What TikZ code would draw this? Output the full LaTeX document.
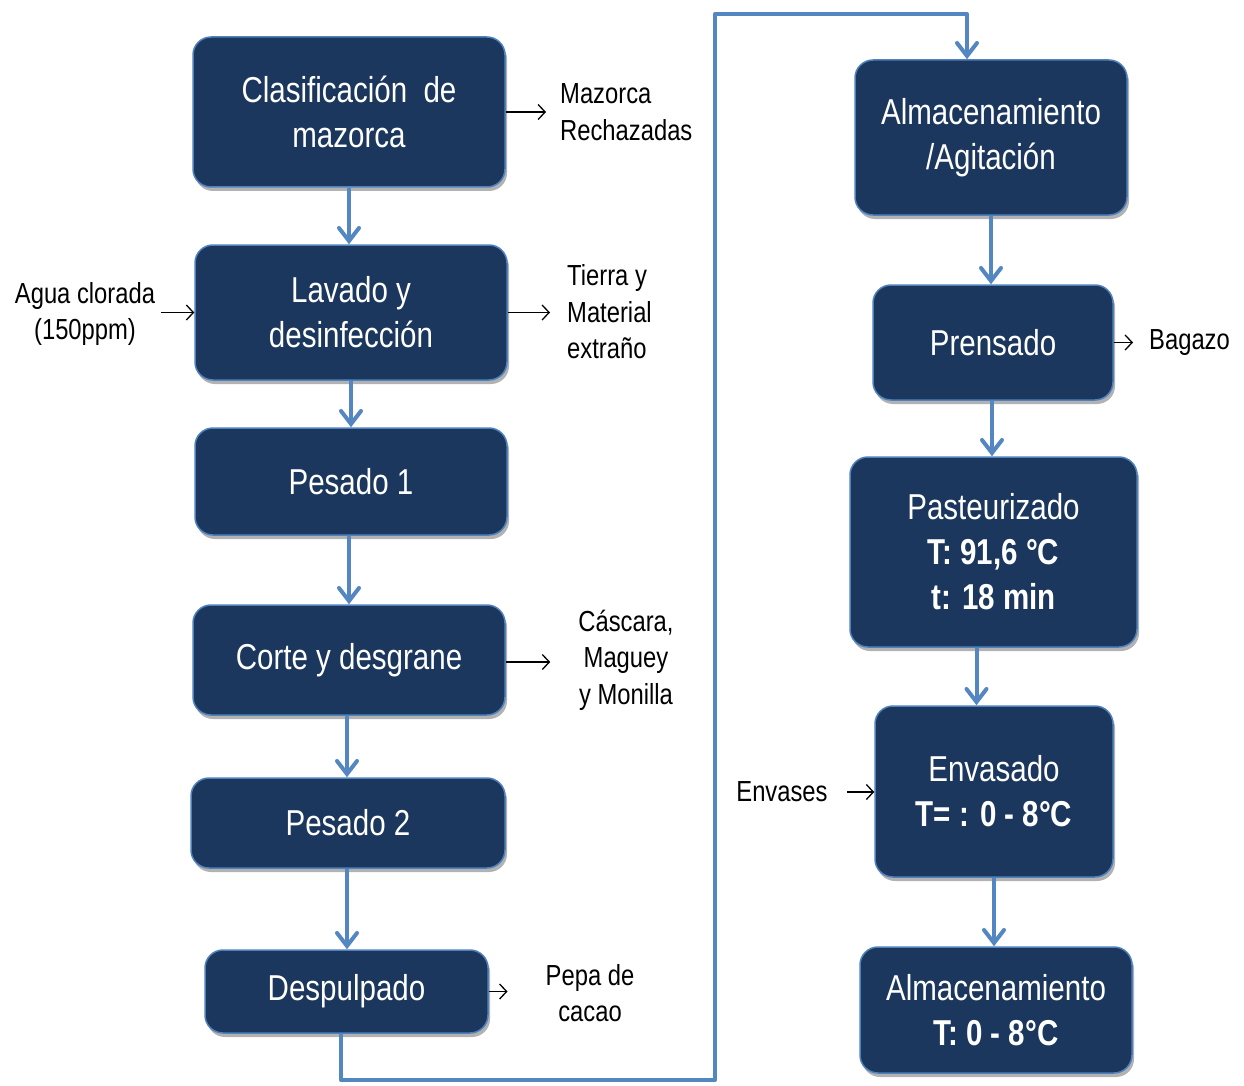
\documentclass[tikz,border=0pt]{standalone}
\usepackage{fontspec}
\setmainfont[FakeStretch=0.82]{Liberation Sans}
\usetikzlibrary{arrows.meta,shadows}
\definecolor{navy}{RGB}{27,55,94}
\definecolor{edgeblue}{RGB}{79,129,189}
\definecolor{flowblue}{RGB}{84,134,194}
\tikzset{
 box/.style={draw=edgeblue, line width=1.5pt, fill=navy, rounded corners=18pt, text=white, align=center, inner sep=0pt,
   font=\fontsize{36}{45}\selectfont,
   drop shadow={shadow xshift=2pt, shadow yshift=-4pt, opacity=0.3, fill=black}},
 flow/.style={draw=flowblue, line width=4pt, line join=round, -{Straight Barb[length=13pt,width=20pt,line cap=round]}},
 side/.style={draw=black, line width=1.3pt, -{Straight Barb[length=7pt,width=15pt]}},
 lab/.style={inner sep=0pt, font=\fontsize{29}{36.5}\selectfont, text=black},
}
\begin{document}
\begin{tikzpicture}[x=1pt,y=-1pt]
\fill[white] (0,0) rectangle (1244,1086);
\useasboundingbox (0,0) rectangle (1244,1086);
% left column
\node[box, minimum width=312pt, minimum height=150pt] (n1) at (349,112) {Clasificación\ \ de\\mazorca};
\node[box, minimum width=312pt, minimum height=135pt] (n2) at (351,312.5) {Lavado y\\desinfección};
\node[box, minimum width=312pt, minimum height=107pt] (n3) at (351,481.5) {Pesado 1};
\node[box, minimum width=312pt, minimum height=110pt] (n4) at (349,660) {Corte y desgrane};
\node[box, minimum width=314pt, minimum height=90pt] (n5) at (348,823) {Pesado 2};
\node[box, minimum width=283pt, minimum height=83pt] (n6) at (346.5,991.5) {Despulpado};
% right column
\node[box, minimum width=272pt, minimum height=155pt] (n7) at (991,137.5) {Almacenamiento\\/Agitación};
\node[box, minimum width=240pt, minimum height=115pt] (n8) at (993,342.5) {Prensado};
\node[box, minimum width=287pt, minimum height=190pt] (n9) at (993.5,552) {Pasteurizado\\\textbf{T: 91,6 °C}\\\textbf{t: 18 min}};
\node[box, minimum width=238pt, minimum height=171pt] (n10) at (994,791.5) {Envasado\\\textbf{T= : 0 - 8°C}};
\node[box, minimum width=272pt, minimum height=126pt] (n11) at (996,1010) {Almacenamiento\\\textbf{T: 0 - 8°C}};
% side labels
\node[lab, anchor=west, align=left] (l1) at (560,112) {Mazorca\\Rechazadas};
\node[lab, align=center] (l2) at (85,314) {Agua clorada\\(150ppm)};
\node[lab, anchor=west, align=left] (l3) at (567,312) {Tierra y\\Material\\extraño};
\node[lab, align=center] (l4) at (626,660) {Cáscara,\\Maguey\\y Monilla};
\node[lab, anchor=west] (l5) at (1149,343) {Bagazo};
\node[lab, align=center] (l6) at (590,993) {Pepa de\\cacao};
\node[lab] (l7) at (782,792) {Envases};
% flow arrows
\draw[flow] (n1.south) -- (n1.south |- n2.north);
\draw[flow] (n2.south) -- (n2.south |- n3.north);
\draw[flow] ([xshift=-2pt]n3.south) -- ([xshift=-2pt]n3.south |- n4.north);
\draw[flow] ([xshift=-2pt]n4.south) -- ([xshift=-2pt]n4.south |- n5.north);
\draw[flow] ([xshift=-1pt]n5.south) -- ([xshift=-1pt]n5.south |- n6.north);
\coordinate (c1) at (715,1080);
\coordinate (c2) at (967,14);
\draw[flow] ([xshift=-5.5pt]n6.south) |- (c1) -- (c1 |- c2) -- (c2) -- (c2 |- n7.north);
\draw[flow] (n7.south) -- (n7.south |- n8.north);
\draw[flow] ([xshift=-1pt]n8.south) -- ([xshift=-1pt]n8.south |- n9.north);
\draw[flow] ([xshift=-17pt]n9.south) -- ([xshift=-17pt]n9.south |- n10.north);
\draw[flow] (n10.south) -- (n10.south |- n11.north);
% side arrows
\draw[side, shorten >=14pt] (n1.east) -- (n1.east -| l1.west);
\draw[side, shorten <=6pt] (l2.east |- n2.west) -- (n2.west);
\draw[side, shorten >=17pt] (n2.east) -- (n2.east -| l3.west);
\draw[side, shorten >=28pt] ([yshift=-2pt]n4.east) -- ([yshift=-2pt]n4.east -| l4.west);
\draw[side, shorten >=16pt] (n8.east) -- (n8.east -| l5.west);
\draw[side, shorten >=38pt] (n6.east) -- (n6.east -| l6.west);
\draw[side, shorten <=19pt] (l7.east) -- (l7.east -| n10.west);
\end{tikzpicture}
\end{document}
